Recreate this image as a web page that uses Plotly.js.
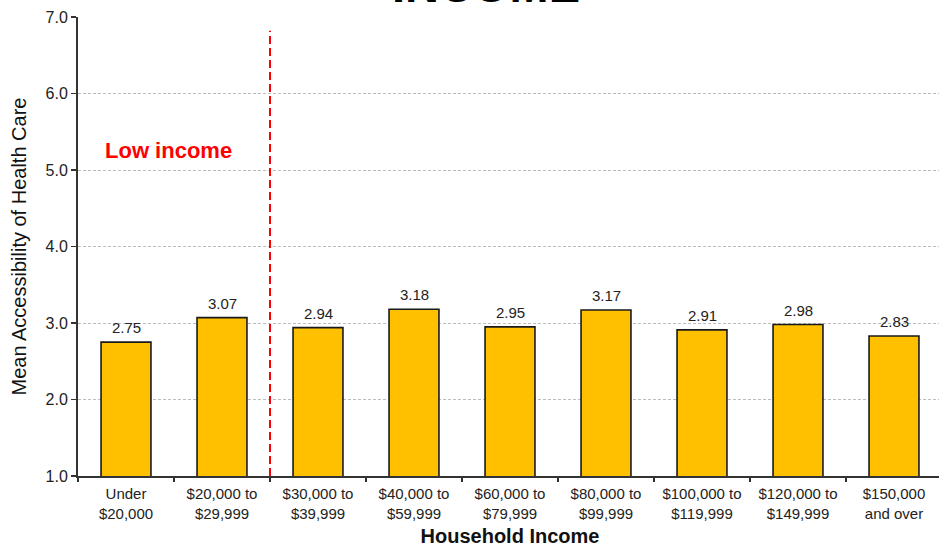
<!DOCTYPE html>
<html>
<head>
<meta charset="utf-8">
<script src="https://cdn.plot.ly/plotly-3.0.1.min.js"></script>
<style>html,body{margin:0;padding:0;overflow:hidden;background:#fff;}</style>
</head>
<body>
<div id="chart" style="width:945px;height:549px;"></div>
<script>
const categories = ["Under<br>$20,000", "$20,000 to<br>$29,999", "$30,000 to<br>$39,999", "$40,000 to<br>$59,999", "$60,000 to<br>$79,999", "$80,000 to<br>$99,999", "$100,000 to<br>$119,999", "$120,000 to<br>$149,999", "$150,000<br>and over"];
const values = [2.75, 3.07, 2.94, 3.18, 2.95, 3.17, 2.91, 2.98, 2.83];
const valueLabels = ["2.75", "3.07", "2.94", "3.18", "2.95", "3.17", "2.91", "2.98", "2.83"];
const yTickVals = [1, 2, 3, 4, 5, 6, 7];
const yTickText = ["1.0", "2.0", "3.0", "4.0", "5.0", "6.0", "7.0"];

const FONT = "Liberation Sans, Arial, sans-serif";

const trace = {
  type: "bar",
  x: categories,
  y: values,
  marker: {color: "#FFC000", line: {color: "#1a1a1a", width: 1.6}},
  hoverinfo: "x+y"
};

const annotations = values.map((v, i) => ({
  x: categories[i], y: v, xref: "x", yref: "y",
  text: valueLabels[i], showarrow: false,
  yanchor: "bottom", yshift: 4,
  font: {family: FONT, size: 15, color: "#222"}
}));

annotations.push({
  x: -0.24, y: 5.26, xref: "x", yref: "y",
  text: "<b>Low income</b>", showarrow: false,
  xanchor: "left", yanchor: "middle",
  font: {family: FONT, size: 22, color: "#ff0000"}
});

annotations.push({
  x: 0.472, y: 1, xref: "paper", yref: "paper",
  text: "<b>INCOME</b>", showarrow: false,
  xanchor: "center", yanchor: "bottom", yshift: 3,
  font: {family: FONT, size: 47, color: "#000"}
});

const layout = {
  width: 945, height: 549,
  margin: {l: 78, r: 3, t: 17, b: 73},
  paper_bgcolor: "#fff", plot_bgcolor: "#fff",
  bargap: 0.48,
  showlegend: false,
  font: {family: FONT, color: "#222"},
  xaxis: {
    type: "category",
    tickson: "boundaries",
    ticks: "outside", ticklen: 4, tickwidth: 1.5, tickcolor: "#333",
    ticklabelstandoff: 3,
    showline: true, linecolor: "#333", linewidth: 2,
    showgrid: false,
    tickfont: {family: FONT, size: 15, color: "#222"},
    title: {text: "<b>Household Income</b>", font: {family: FONT, size: 20, color: "#111"}, standoff: 8},
    automargin: false
  },
  yaxis: {
    range: [1, 7],
    tickvals: yTickVals, ticktext: yTickText,
    ticks: "outside", ticklen: 5, tickwidth: 1.5, tickcolor: "#333",
    showline: true, linecolor: "#333", linewidth: 2,
    showgrid: true, gridcolor: "#bdbdbd", gridwidth: 1, griddash: "3px,2px",
    zeroline: false,
    tickfont: {family: FONT, size: 16, color: "#222"},
    title: {text: "Mean Accessibility of Health Care", font: {family: FONT, size: 20, color: "#111"}, standoff: 14},
    automargin: false
  },
  shapes: [{
    type: "line", xref: "x", yref: "y",
    x0: 1.5, x1: 1.5, y0: 1, y1: 6.82,
    line: {color: "#ff0000", width: 2, dash: "8px,4px"}
  }],
  annotations: annotations
};

Plotly.newPlot("chart", [trace], layout, {displayModeBar: false, staticPlot: true});
</script>
</body>
</html>
